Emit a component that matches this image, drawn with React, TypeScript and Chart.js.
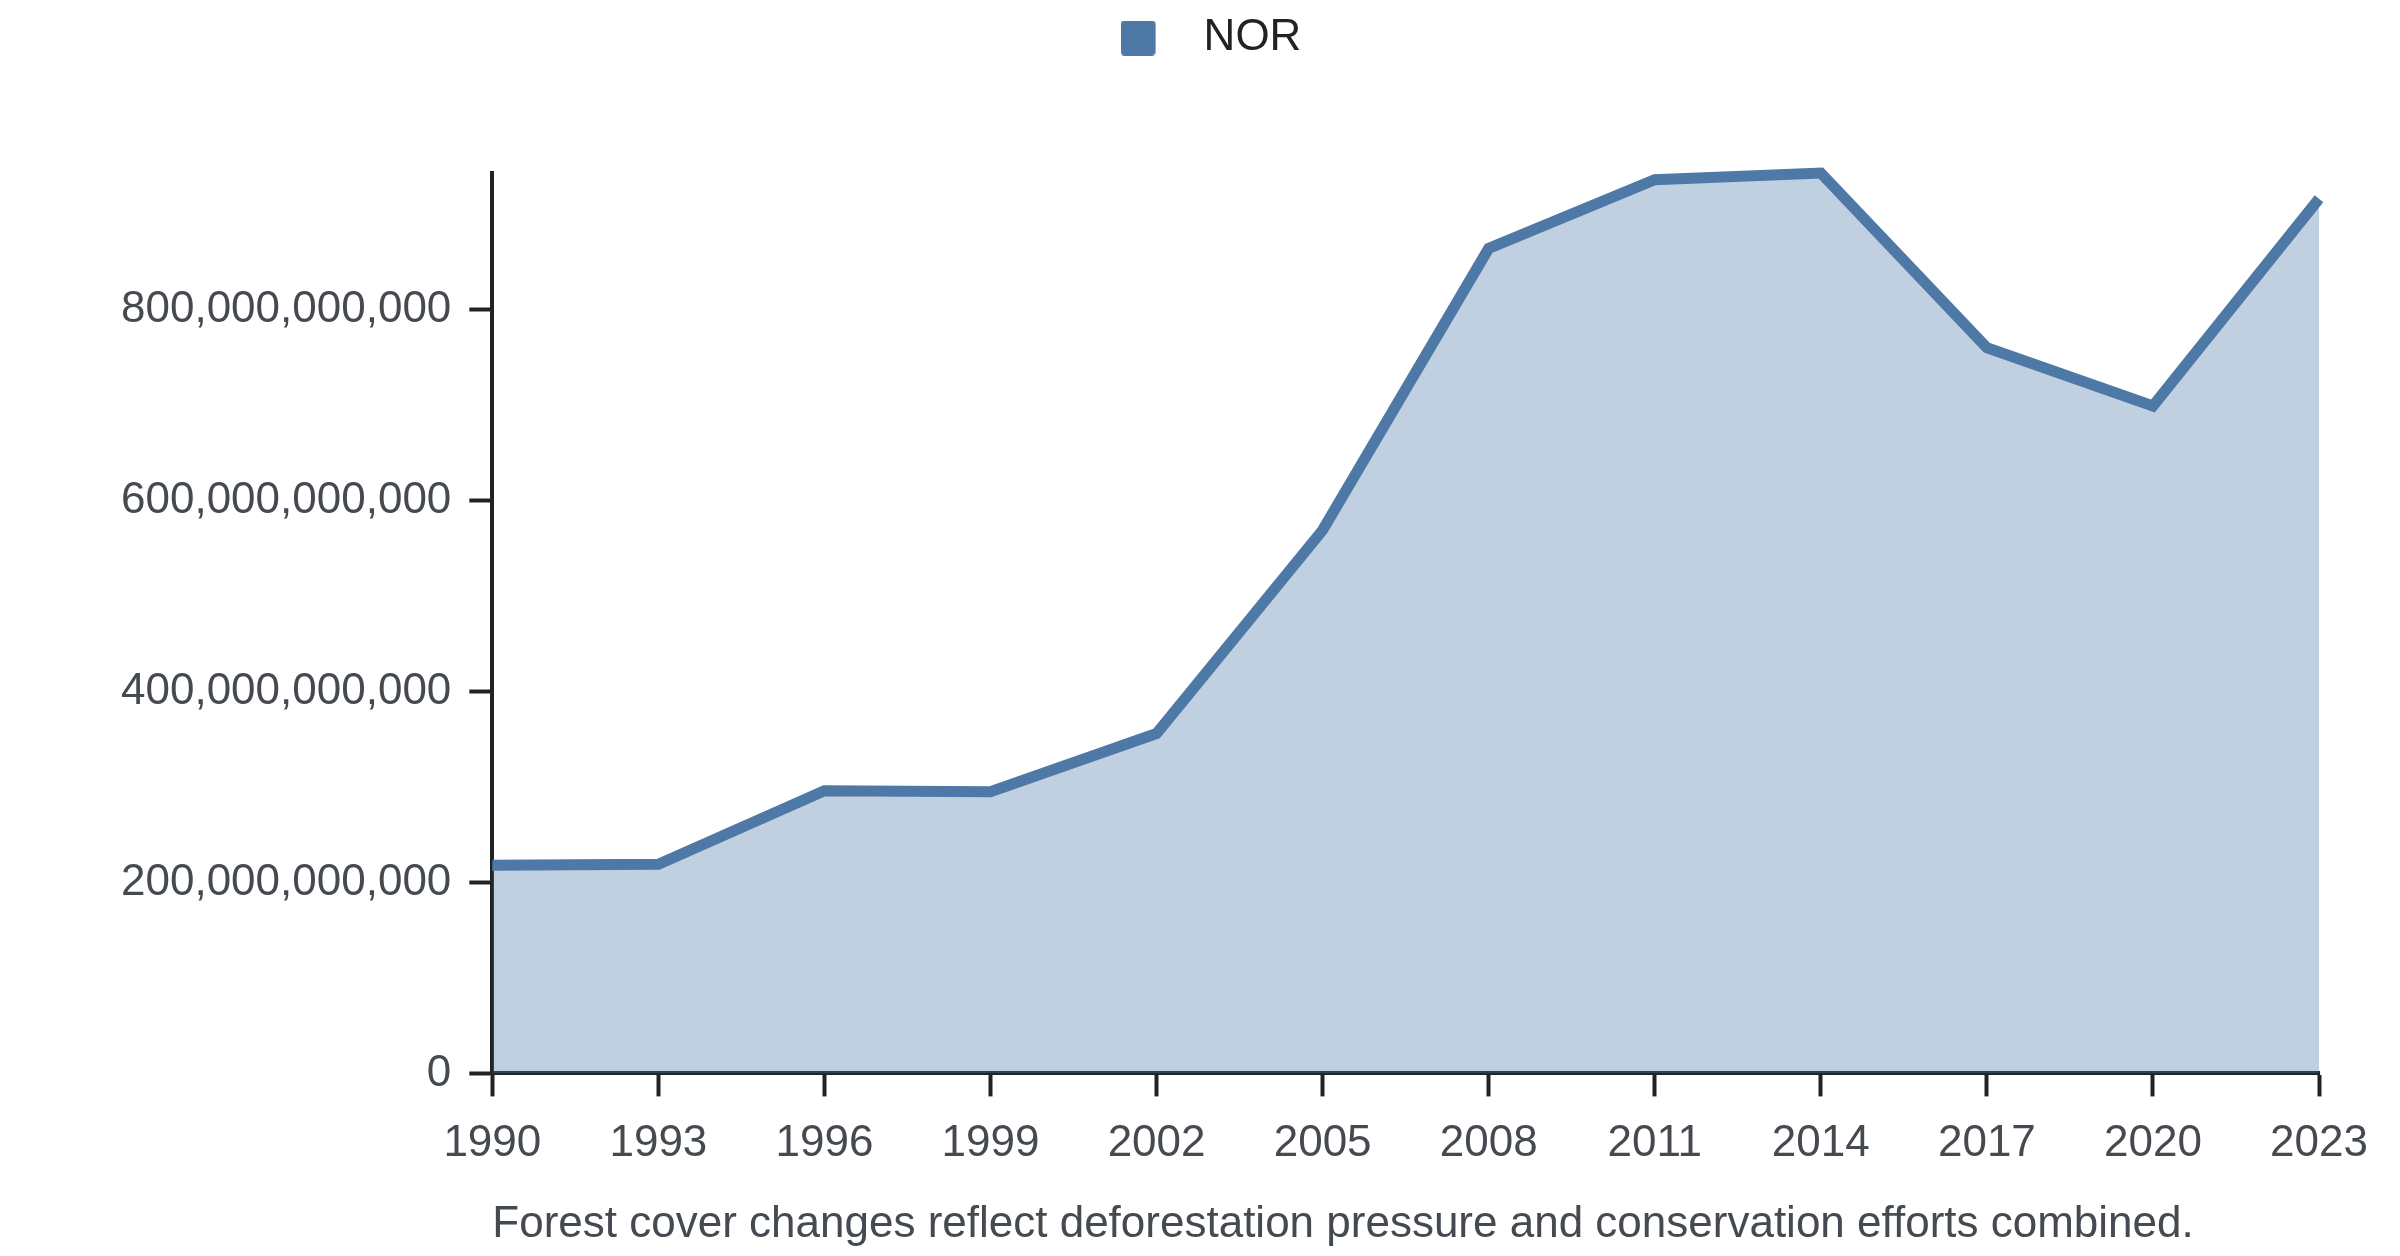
import { useEffect, useRef } from 'react';
import { Chart, registerables } from 'chart.js';

Chart.register(...registerables);

// Forest cover series, NOR
const years = ['1990', '1993', '1996', '1999', '2002', '2005', '2008', '2011', '2014', '2017', '2020', '2023'];
const norValues = [
  218e9, 219e9, 296e9, 295e9, 356e9, 569e9, 864e9, 936e9, 943e9, 760e9, 699e9, 916e9,
];
const yTickValues = [0, 200e9, 400e9, 600e9, 800e9];
const seriesName = 'NOR';
const caption = 'Forest cover changes reflect deforestation pressure and conservation efforts combined.';

const BLUE = '#4e79a7';
const AXIS = '#222222';
const TEXT = '#454a51';

// legend swatch with extra blank room on the right, so the label sits further away
function makeSwatch() {
  const c = document.createElement('canvas');
  c.width = 61;
  c.height = 35;
  const ctx = c.getContext('2d');
  if (ctx) {
    ctx.fillStyle = BLUE;
    ctx.beginPath();
    ctx.roundRect(0, 0, 35, 35, 4);
    ctx.fill();
  }
  return c;
}

// pushes the plot down below the legend
const legendGap = {
  id: 'legendGap',
  beforeInit(chart: any) {
    const legend = chart.legend;
    if (!legend) return;
    const fit = legend.fit;
    legend.fit = function () {
      fit.call(this);
      this.height += 103;
    };
  },
};

export default function App() {
  const canvasRef = useRef<HTMLCanvasElement>(null);

  useEffect(() => {
    document.body.style.margin = '0';
    if (!canvasRef.current) return;

    Chart.defaults.font.family = "'Liberation Sans', Arial, sans-serif";
    Chart.defaults.font.size = 44;

    const chart = new Chart(canvasRef.current, {
      type: 'line',
      data: {
        labels: years,
        datasets: [
          {
            label: seriesName,
            data: norValues,
            borderColor: BLUE,
            backgroundColor: 'rgba(78,121,167,0.35)',
            borderWidth: 11,
            borderJoinStyle: 'miter',
            borderCapStyle: 'butt',
            pointRadius: 0,
            pointHoverRadius: 0,
            tension: 0,
            fill: 'origin',
            clip: false,
          },
        ],
      },
      options: {
        animation: false,
        responsive: true,
        maintainAspectRatio: false,
        layout: { padding: { top: 6, left: 103, right: 81, bottom: 0 } },
        plugins: {
          legend: {
            position: 'top',
            labels: {
              usePointStyle: true,
              pointStyle: makeSwatch(),
              pointStyleWidth: 61,
              boxHeight: 35,
              color: AXIS,
              padding: 10,
            },
          },
          tooltip: { enabled: false },
        },
        scales: {
          x: {
            type: 'category',
            offset: false,
            z: 1,
            border: { display: true, color: AXIS, width: 4 },
            grid: {
              display: true,
              drawOnChartArea: false,
              drawTicks: true,
              tickLength: 23,
              tickColor: AXIS,
              tickWidth: 4,
            },
            ticks: { color: TEXT, padding: 21, maxRotation: 0, autoSkip: false },
            title: {
              display: true,
              text: caption,
              align: 'start',
              color: TEXT,
              padding: { top: 7, bottom: 5 },
            },
          },
          y: {
            min: 0,
            max: Math.max(...norValues),
            z: 1,
            border: { display: true, color: AXIS, width: 4 },
            grid: {
              display: true,
              drawOnChartArea: false,
              drawTicks: true,
              tickLength: 23,
              tickColor: AXIS,
              tickWidth: 4,
            },
            afterBuildTicks: (scale) => {
              scale.ticks = yTickValues.map((value) => ({ value }));
            },
            ticks: {
              color: TEXT,
              padding: 18,
              callback: (v) => Number(v).toLocaleString('en-US'),
            },
          },
        },
      },
      plugins: [legendGap],
    });

    return () => {
      chart.destroy();
    };
  }, []);

  return (
    <div style={{ width: 2400, height: 1256, position: 'relative', overflow: 'hidden' }}>
      <canvas ref={canvasRef} style={{ display: 'block', width: '100%', height: '100%' }} />
    </div>
  );
}
